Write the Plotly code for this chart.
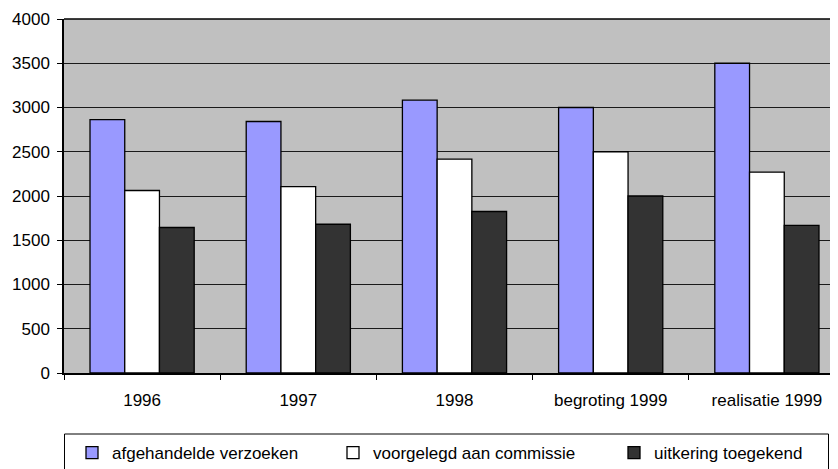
import plotly.graph_objects as go

categories = ["1996", "1997", "1998", "begroting 1999", "realisatie 1999"]
afgehandeld = [2864, 2842, 3083, 3000, 3500]
voorgelegd = [2062, 2107, 2416, 2500, 2269]
toegekend = [1644, 1681, 1825, 2000, 1667]
series_names = ["afgehandelde verzoeken", "voorgelegd aan commissie", "uitkering toegekend"]
y_ticks = [0, 500, 1000, 1500, 2000, 2500, 3000, 3500, 4000]

colors = ["#9999FF", "#FFFFFF", "#333333"]
FONT = "Liberation Sans, Arial, sans-serif"
FS = 17

fig = go.Figure()
legends = ["legend", "legend2", "legend3"]
for vals, name, col, lg in zip([afgehandeld, voorgelegd, toegekend], series_names, colors, legends):
    fig.add_trace(go.Bar(
        x=categories, y=vals, name=name, legend=lg,
        marker=dict(color=col, line=dict(color="#000000", width=1.3)),
    ))

# page has an 8px body margin; figure drawn at (8, 8)
OFF = 8
W, H = 838, 469
L, R, T, B = 56, 1, 11, 104
pw = W - L - R
ph = H - T - B

def lx(px):
    return (px - OFF - L) / pw

def ly(py):
    return (H - B - (py - OFF)) / ph

leg_common = dict(orientation="h", xanchor="left", yanchor="middle",
                  bgcolor="rgba(0,0,0,0)", borderwidth=0,
                  font=dict(family=FONT, size=FS, color="#000000"),
                  itemwidth=30)
fig.update_layout(
    width=W, height=H,
    margin=dict(l=L, r=R, t=T, b=B, pad=0),
    paper_bgcolor="#FFFFFF",
    plot_bgcolor="#C0C0C0",
    barmode="group", bargap=0.333, bargroupgap=0,
    font=dict(family=FONT, size=FS, color="#000000"),
    showlegend=True,
    legend=dict(x=lx(72), y=ly(453), **leg_common),
    legend2=dict(x=lx(333), y=ly(453), **leg_common),
    legend3=dict(x=lx(614), y=ly(453), **leg_common),
    xaxis=dict(
        type="category", range=[-0.5, 4.5],
        tickson="boundaries", ticks="outside", ticklen=5, tickcolor="#000000",
        showline=True, linecolor="#000000", linewidth=1.5,
        showgrid=False, tickfont=dict(family=FONT, size=FS, color="#000000"),
        ticklabelstandoff=11,
    ),
    yaxis=dict(
        range=[0, 4000], tickvals=y_ticks, ticktext=[str(v) for v in y_ticks],
        ticks="outside", ticklen=5, tickcolor="#000000",
        showline=True, linecolor="#000000", linewidth=1.5,
        showgrid=True, gridcolor="#1a1a1a", gridwidth=1,
        zeroline=False,
        tickfont=dict(family=FONT, size=FS, color="#000000"),
        ticklabelstandoff=4,
    ),
    shapes=[
        dict(type="line", xref="paper", yref="paper", x0=0, x1=1, y0=1, y1=1,
             line=dict(color="#000000", width=1.5)),
        dict(type="rect", xref="paper", yref="paper",
             x0=lx(64.5), x1=lx(828.5), y0=ly(434), y1=ly(480),
             line=dict(color="#000000", width=1), fillcolor="rgba(0,0,0,0)"),
    ],
)

fig.write_html("out.html")
